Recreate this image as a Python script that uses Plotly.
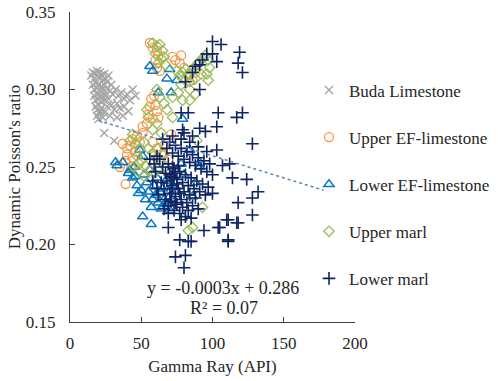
import plotly.graph_objects as go

# ---------------- data ----------------
buda_x = [15,16,17,18,19,20,21,22,23,24,25,26,27,
          16,17,18,19,20,21,22,23,24,25,26,28,29,
          17,18,19,20,21,22,23,24,25,27,30,32,34,36,38,40,42,44,46,
          18,19,20,21,22,24,26,29,31,33,35,38,41,
          19,20,21,23,28,33,37,
          24,31]
buda_y = [0.309,0.311,0.307,0.310,0.312,0.308,0.311,0.309,0.306,0.310,0.307,0.305,0.309,
          0.303,0.300,0.304,0.301,0.303,0.299,0.302,0.300,0.303,0.298,0.301,0.299,0.303,
          0.296,0.293,0.297,0.294,0.296,0.292,0.295,0.293,0.296,0.294,0.297,0.300,0.296,0.298,0.294,0.297,0.293,0.300,0.296,
          0.289,0.287,0.290,0.286,0.288,0.285,0.289,0.290,0.287,0.291,0.288,0.289,0.286,
          0.283,0.281,0.284,0.282,0.283,0.282,0.283,
          0.272,0.267]

uef_x = [56,58,61,62,60,61,63,72,78,74,77,80,88,86,83,
         57,60,61,58,55,54,51,51,56,59,62,
         47,44,42,40,40,44,37,46,49,39,48,43,
         58,61,64,59,66,71,69,
         39,35]
uef_y = [0.330,0.327,0.325,0.322,0.319,0.314,0.312,0.321,0.322,0.319,0.317,0.314,0.311,0.306,0.309,
         0.294,0.290,0.286,0.281,0.284,0.278,0.276,0.272,0.289,0.296,0.282,
         0.270,0.268,0.264,0.262,0.258,0.256,0.265,0.260,0.266,0.254,0.252,0.250,
         0.266,0.262,0.258,0.257,0.264,0.271,0.255,
         0.239,0.250]

lef_x = [56,58,70,68,75,62,71,79,
         32,33,37,42,49,51,41,44,47,50,55,58,62,57,64,51,57,48,53,60,66,68,63,70,
         54,46,52,59,65,72,61,67,75,84,91,86,91,80,78,88,45,56,66,70]
lef_y = [0.315,0.312,0.313,0.307,0.306,0.298,0.298,0.281,
         0.253,0.251,0.253,0.248,0.261,0.257,0.246,0.243,0.238,0.235,0.234,0.229,0.227,0.224,0.223,0.218,0.213,0.233,0.229,0.232,0.229,0.226,0.234,0.231,
         0.240,0.244,0.245,0.238,0.236,0.238,0.243,0.241,0.234,0.261,0.250,0.231,0.253,0.245,0.252,0.240,0.250,0.248,0.226,0.222]

um_x = [58,61,63,65,60,64,62,66,67,
        75,77,79,81,83,85,87,89,91,93,95,97,98,96,97,92,88,84,80,78,84,88,84,79,76,72,72,68,
        61,63,66,54,55,61,58,64,
        44,42,46,49,52,55,58,61,64,67,47,50,53,56,59,45,62,66,48,52,
        89,86,93,83,86]
um_y = [0.330,0.328,0.329,0.325,0.323,0.320,0.317,0.321,0.316,
        0.312,0.309,0.311,0.313,0.310,0.312,0.314,0.316,0.318,0.320,0.322,0.319,0.314,0.310,0.306,0.310,0.307,0.305,0.307,0.303,0.300,0.297,0.293,0.293,0.298,0.295,0.282,0.287,
        0.300,0.295,0.291,0.287,0.282,0.278,0.274,0.272,
        0.271,0.267,0.265,0.262,0.266,0.262,0.259,0.256,0.253,0.250,0.257,0.254,0.251,0.248,0.246,0.250,0.262,0.258,0.247,0.244,
        0.267,0.235,0.224,0.209,0.211]

lm_x = [100,106,96,100,103,93,91,88,86,81,91,119,118,121,
        78,83,104,117,121,103,79,91,95,128,
        124,132,128,118,128,118,111,105,111,100,114,107,103,112,
        77,83,85,74,81,80,69,78,94,104,111,110,117,
        65,68,70,72,74,76,78,80,82,84,86,88,90,92,94,96,98,100,
        63,65,67,69,71,73,75,77,79,81,83,85,87,89,91,93,95,97,
        64,66,68,70,72,74,76,78,80,82,84,86,88,90,
        67,69,71,73,75,77,79,81,83,85,
        70,72,74,76,73,75,71,77,74,69,66,62,60,58,61,
        72,78,84,90,96,80,86,56,59,61]
lm_y = [0.331,0.329,0.323,0.323,0.318,0.319,0.316,0.315,0.311,0.305,0.300,0.324,0.317,0.311,
        0.285,0.285,0.285,0.282,0.285,0.276,0.274,0.275,0.273,0.265,
        0.242,0.234,0.230,0.227,0.219,0.214,0.216,0.211,0.203,0.233,0.243,0.251,0.261,0.252,
        0.203,0.202,0.202,0.192,0.193,0.185,0.211,0.216,0.209,0.211,0.202,0.216,0.214,
        0.268,0.262,0.266,0.259,0.264,0.257,0.262,0.255,0.260,0.253,0.258,0.251,0.256,0.249,0.254,0.247,0.252,0.245,
        0.255,0.250,0.246,0.252,0.244,0.249,0.242,0.247,0.240,0.245,0.238,0.243,0.236,0.241,0.234,0.239,0.232,0.237,
        0.240,0.236,0.241,0.233,0.238,0.231,0.236,0.229,0.234,0.227,0.232,0.225,0.230,0.223,
        0.229,0.225,0.228,0.222,0.226,0.220,0.224,0.218,0.222,0.217,
        0.245,0.250,0.246,0.251,0.243,0.239,0.236,0.233,0.227,0.220,0.223,0.232,0.247,0.241,0.236,
        0.270,0.268,0.266,0.263,0.260,0.272,0.270,0.255,0.252,0.257]

trend_x = [20, 178]
trend_y = [0.280, 0.235]

series_names = ["Buda Limestone", "Upper EF-limestone", "Lower EF-limestone", "Upper marl", "Lower marl"]
equation_text = "y = -0.0003x + 0.286"
r2_text = "R² = 0.07"

# ---------------- styles ----------------
FONT = "Times New Roman, Liberation Serif, serif"
TXT = "#262626"
styles = [
    dict(symbol="x-thin", color="#A5A5A5", size=8, lw=1.4),
    dict(symbol="circle-open", color="#F79646", size=9, lw=1.3),
    dict(symbol="triangle-up-open", color="#0A78C2", size=9, lw=1.5),
    dict(symbol="diamond-open", color="#9BBB59", size=8, lw=1.3),
    dict(symbol="cross-thin", color="#0F2463", size=9, lw=1.6),
]
data = [(buda_x, buda_y), (uef_x, uef_y), (lef_x, lef_y), (um_x, um_y), (lm_x, lm_y)]

fig = go.Figure()
for i, ((xs, ys), name, st) in enumerate(zip(data, series_names, styles)):
    fig.add_trace(go.Scatter(
        x=xs, y=ys, mode="markers", name=name, legendgroup=f"g{i}",
        marker=dict(symbol=st["symbol"], size=st["size"], color=st["color"],
                    line=dict(color=st["color"], width=st["lw"])),
    ))

fig.add_trace(go.Scatter(
    x=trend_x, y=trend_y, mode="lines", showlegend=False,
    line=dict(color="#5B86B8", width=1.5, dash="dot"),
))

fig.add_annotation(x=107.5, y=0.172, xref="x", yref="y", text=equation_text,
                   showarrow=False, font=dict(family=FONT, size=18, color=TXT))
fig.add_annotation(x=108, y=0.159, xref="x", yref="y", text=r2_text,
                   showarrow=False, font=dict(family=FONT, size=18, color=TXT))

axis_common = dict(showgrid=False, zeroline=False, showline=True, linecolor="#404040",
                   linewidth=1.2, ticks="inside", ticklen=5, tickcolor="#404040",
                   automargin=False, ticklabeloverflow="allow",
                   tickfont=dict(family=FONT, size=17, color=TXT))

fig.update_xaxes(range=[0, 200], dtick=50, tick0=0,
                 title=dict(text="Gamma Ray (API)", font=dict(family=FONT, size=17, color=TXT), standoff=8),
                 ticklabelstandoff=5, **axis_common)
fig.update_yaxes(range=[0.15, 0.35], dtick=0.05, tick0=0.15, tickformat=".2f",
                 title=dict(text="Dynamic Poisson's ratio", font=dict(family=FONT, size=17, color=TXT), standoff=0),
                 ticklabelstandoff=10, **axis_common)

fig.update_layout(
    width=498, height=381,
    margin=dict(l=70, r=143, t=12, b=59, autoexpand=False),
    plot_bgcolor="white", paper_bgcolor="white",
    font=dict(family=FONT, color=TXT),
    legend=dict(x=0.8386, y=0.805, xanchor="left", yanchor="top",
                font=dict(family=FONT, size=17, color=TXT),
                tracegroupgap=22, bgcolor="rgba(0,0,0,0)"),
)

# remove the default page margin so the figure fills the window exactly
fig.write_html("out.html", config={"displayModeBar": False},
               post_script="document.body.style.margin='0';")
